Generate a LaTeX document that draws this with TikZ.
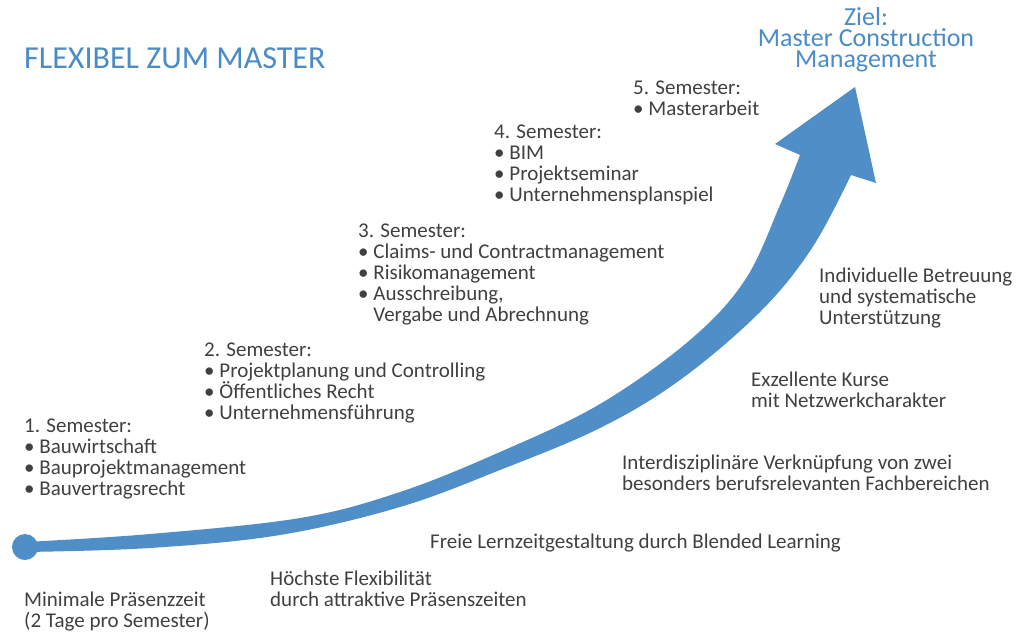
\documentclass[tikz,border=0pt]{standalone}
\usepackage{fontspec}
\setmainfont{Carlito}
\definecolor{arrowblue}{HTML}{4F8EC7}
\definecolor{titleblue}{HTML}{4A8BC8}
\definecolor{textgray}{HTML}{404040}
\tikzset{
  txt/.style={font=\fontsize{21}{21}\selectfont, text=textgray, align=left, anchor=base west, inner sep=0pt},
  titletxt/.style={font=\fontsize{32}{32}\selectfont, text=titleblue, anchor=base west, inner sep=0pt},
  goaltxt/.style={font=\fontsize{26}{21}\selectfont, text=titleblue, align=center, anchor=base, inner sep=0pt},
  startdot/.style={circle, fill=arrowblue, inner sep=0pt, minimum size=26pt}
}
\begin{document}
\begin{tikzpicture}[x=1pt,y=-1pt]
\useasboundingbox (0,0) rectangle (1018,633);
% arrow
\fill[arrowblue] plot[smooth, tension=0.6] coordinates {(25,542) (150,534) (300,518) (400,492) (500,452) (600,404) (690,340) (745,280) (780,205) (800,155)}
  -- (775,144) -- (855,87) -- (876,183)
  -- plot[smooth, tension=0.6] coordinates {(851,175) (812,248) (760,312) (680,380) (600,428) (500,470) (400,507) (280,535) (150,548) (25,552)}
  -- cycle;
\node[startdot] (start) at (25,547) {};
% titles (base anchor = baseline of last line)
\node[titletxt] (title) at (24,68) {FLEXIBEL ZUM MASTER};
\node[goaltxt] (goal) at (866,67) {Ziel:\\Master Construction\\Management};
% semesters
\node[txt] (s5) at (633,115) {5. Semester:\\• Masterarbeit};
\node[txt] (s4) at (494,201) {4. Semester:\\• BIM\\• Projektseminar\\• Unternehmensplanspiel};
\node[txt] (s3) at (358,321) {3. Semester:\\• Claims- und Contractmanagement\\• Risikomanagement\\• Ausschreibung,\\\hphantom{• }Vergabe und Abrechnung};
\node[txt] (s2) at (204,419) {2. Semester:\\• Projektplanung und Controlling\\• Öffentliches Recht\\• Unternehmensführung};
\node[txt] (s1) at (24,495) {1. Semester:\\• Bauwirtschaft\\• Bauprojektmanagement\\• Bauvertragsrecht};
% features
\node[txt] (f1) at (819,324) {Individuelle Betreuung\\und systematische\\Unterstützung};
\node[txt] (f2) at (751,407) {Exzellente Kurse\\mit Netzwerkcharakter};
\node[txt] (f3) at (622,490) {Interdisziplinäre Verknüpfung von zwei\\besonders berufsrelevanten Fachbereichen};
\node[txt] (f4) at (430,548) {Freie Lernzeitgestaltung durch Blended Learning};
\node[txt] (f5) at (270,606) {Höchste Flexibilität\\durch attraktive Präsenszeiten};
\node[txt] (f6) at (24,627) {Minimale Präsenzzeit\\(2 Tage pro Semester)};
\end{tikzpicture}
\end{document}
